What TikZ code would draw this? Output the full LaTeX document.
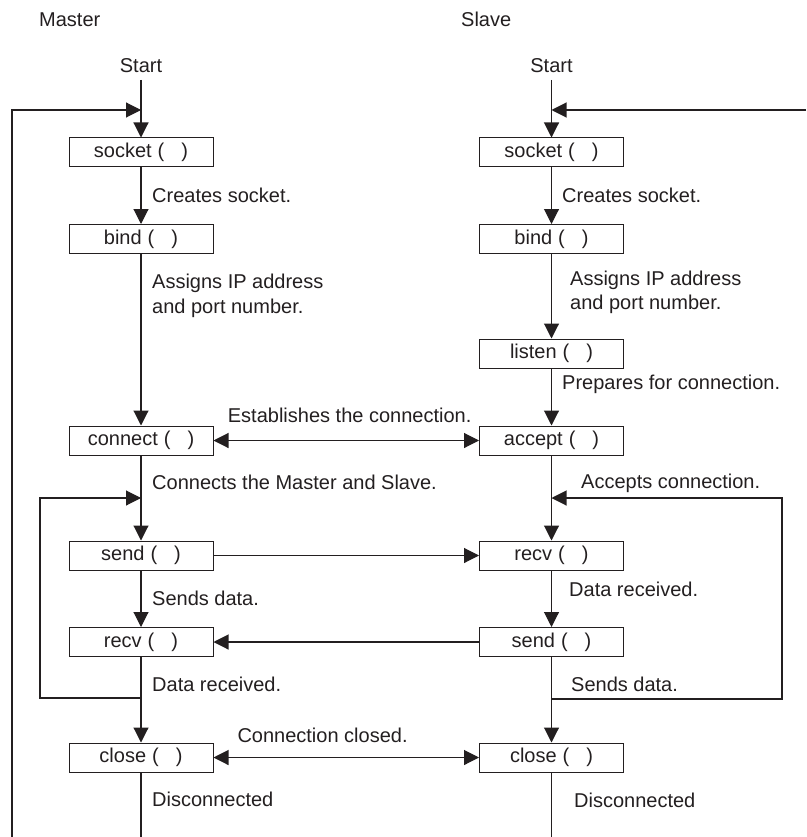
\documentclass[tikz,border=0pt]{standalone}
\usepackage{fontspec}
\setmainfont{Liberation Sans}
\usetikzlibrary{arrows.meta}
\definecolor{ink}{RGB}{35,31,32}
\newcommand{\fnp}[1]{#1\hspace{0.3em}(\hspace{0.85em})}
\begin{document}
\begin{tikzpicture}[x=1pt,y=-1pt,
  fn/.style={draw=ink, line width=1pt, minimum width=144pt, minimum height=29pt,
    inner sep=0pt, font=\fontsize{20}{25}\selectfont, text=ink},
  lbl/.style={anchor=base west, inner sep=0pt, font=\fontsize{20}{25}\selectfont, text=ink},
  ttl/.style={anchor=base, inner sep=0pt, font=\fontsize{20}{25}\selectfont, text=ink},
  tip/.tip={Triangle[length=15pt,width=15pt]},
  wire/.style={draw=ink, line width=1.1pt},
  flow/.style={wire, -tip},
  both/.style={wire, tip-tip}]
\useasboundingbox (0,0) rectangle (806,837);

% titles
\node[lbl] (tmaster) at (39,27) {Master};
\node[lbl] (tslave) at (461,27) {Slave};
\node[ttl] (mstart) at (141,73) {Start};
\node[ttl] (sstart) at (551.5,73) {Start};

% master boxes
\node[fn] (msock)  at (141,152.5) {\fnp{socket}};
\node[fn] (mbind)  at (141,239)   {\fnp{bind}};
\node[fn] (mconn)  at (141,440.5) {\fnp{connect}};
\node[fn] (msend)  at (141,555.5) {\fnp{send}};
\node[fn] (mrecv)  at (141,642)   {\fnp{recv}};
\node[fn] (mclose) at (141,757.5) {\fnp{close}};

% slave boxes
\node[fn] (ssock)   at (551.5,152.5) {\fnp{socket}};
\node[fn] (sbind)   at (551.5,239)   {\fnp{bind}};
\node[fn] (slisten) at (551.5,353.5) {\fnp{listen}};
\node[fn] (saccept) at (551.5,440.5) {\fnp{accept}};
\node[fn] (srecv)   at (551.5,555.5) {\fnp{recv}};
\node[fn] (ssend)   at (551.5,642)   {\fnp{send}};
\node[fn] (sclose)  at (551.5,757.5) {\fnp{close}};

% coordinates
\coordinate (mtop) at (141,80);
\coordinate (stop) at (551.5,80);
\coordinate (mj1) at (141,110);
\coordinate (sj1) at (551.5,110);
\coordinate (mouter) at (12,837);
\coordinate (souter) at (806,110);
\coordinate (mj2) at (141,698);
\coordinate (mj3) at (141,498);
\coordinate (mleft) at (40,698);
\coordinate (sj2) at (551.5,699);
\coordinate (sj3) at (551.5,498);
\coordinate (sright) at (782,699);
\coordinate (mbottom) at (141,837);
\coordinate (sbottom) at (551.5,837);

% master verticals
\draw[flow] (mtop) -- (msock);
\draw[flow] (msock) -- (mbind);
\draw[flow] (mbind) -- (mconn);
\draw[flow] (mconn) -- (msend);
\draw[flow] (msend) -- (mrecv);
\draw[flow] (mrecv) -- (mclose);
\draw[wire] (mclose) -- (mbottom);

% slave verticals
\draw[flow] (stop) -- (ssock);
\draw[flow] (ssock) -- (sbind);
\draw[flow] (sbind) -- (slisten);
\draw[flow] (slisten) -- (saccept);
\draw[flow] (saccept) -- (srecv);
\draw[flow] (srecv) -- (ssend);
\draw[flow] (ssend) -- (sclose);
\draw[wire] (sclose) -- (sbottom);

% loops
\draw[flow] (mouter) |- (mj1);
\draw[flow] (souter) -- (sj1);
\draw[flow] (mj2) -- (mleft) |- (mj3);
\draw[flow] (sj2) -- (sright) |- (sj3);

% horizontals
\draw[both] (mconn) -- (saccept);
\draw[flow] (msend) -- (srecv);
\draw[flow] (ssend) -- (mrecv);
\draw[both] (mclose) -- (sclose);

% labels
\node[lbl] (l1)  at (152,202.3) {Creates socket.};
\node[lbl] (l2)  at (562,202.3) {Creates socket.};
\node[lbl] (l3a) at (152,288.3) {Assigns IP address};
\node[lbl] (l3b) at (152,313.3) {and port number.};
\node[lbl] (l4a) at (570,285)   {Assigns IP address};
\node[lbl] (l4b) at (570,309.3) {and port number.};
\node[lbl] (l5)  at (562,389)   {Prepares for connection.};
\node[lbl] (l6)  at (227.7,422) {Establishes the connection.};
\node[lbl] (l7)  at (152,489.5) {Connects the Master and Slave.};
\node[lbl] (l8)  at (581,488)   {Accepts connection.};
\node[lbl] (l9)  at (152,605.7) {Sends data.};
\node[lbl] (l10) at (569,596.7) {Data received.};
\node[lbl] (l11) at (152,691)   {Data received.};
\node[lbl] (l12) at (571,691.7) {Sends data.};
\node[lbl] (l13) at (237.3,742.3) {Connection closed.};
\node[lbl] (l14) at (152,806.7) {Disconnected};
\node[lbl] (l15) at (574,807.3) {Disconnected};
\end{tikzpicture}
\end{document}
